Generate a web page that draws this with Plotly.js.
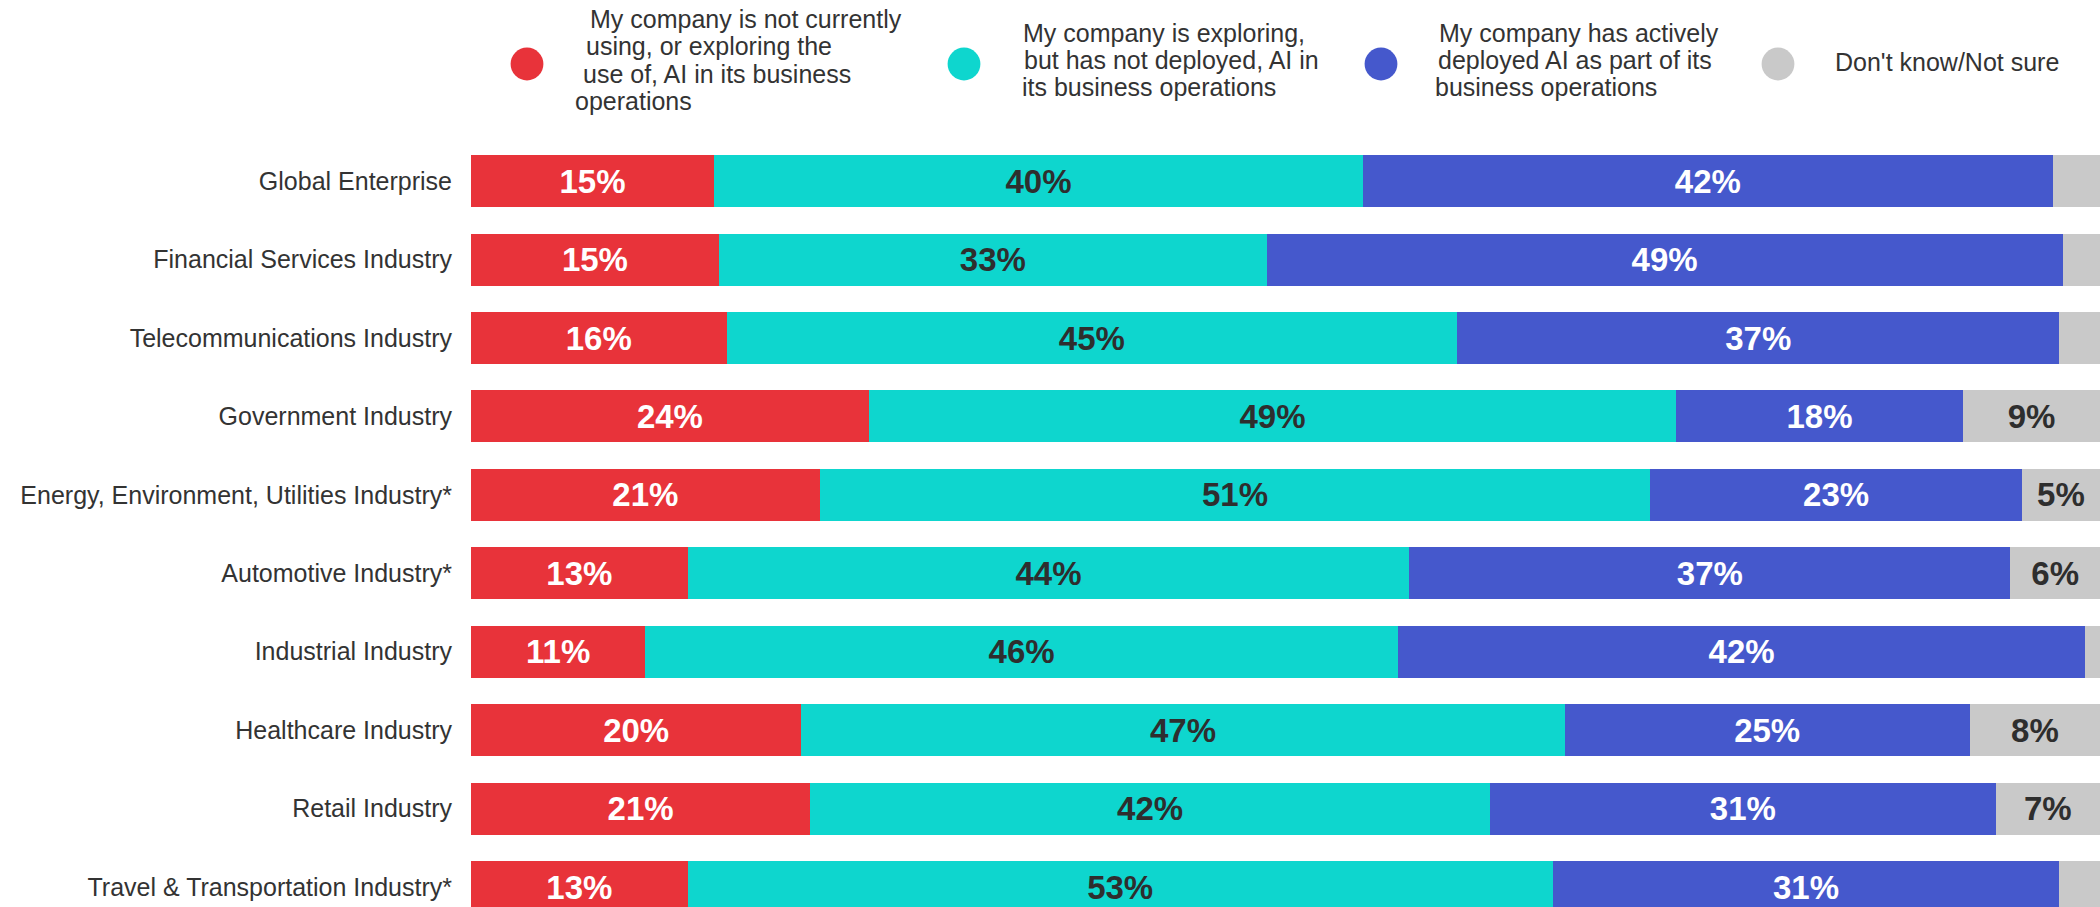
<!DOCTYPE html>
<html>
<head>
<meta charset="utf-8">
<script src="https://cdn.plot.ly/plotly-3.0.1.min.js"></script>
<style>
  html, body { margin: 0; padding: 0; background: #ffffff; }
  #chart { width: 2100px; height: 907px; }
</style>
</head>
<body>
<div id="chart"></div>
<script>
// ---------------- DATA ----------------
const categories = [
  "Global Enterprise",
  "Financial Services Industry",
  "Telecommunications Industry",
  "Government Industry",
  "Energy, Environment, Utilities Industry*",
  "Automotive Industry*",
  "Industrial Industry",
  "Healthcare Industry",
  "Retail Industry",
  "Travel & Transportation Industry*"
];

const seriesNames = [
  "My company is not currently using, or exploring the use of, AI in its business operations",
  "My company is exploring, but has not deployed, AI in its business operations",
  "My company has actively deployed AI as part of its business operations",
  "Don't know/Not sure"
];

// shares (%) as measured from the bar segments
const notUsing   = [14.9, 15.2, 15.7, 24.4, 21.4, 13.3, 10.7, 20.3, 20.8, 13.3];
const exploring  = [39.8, 33.6, 44.9, 49.5, 51.0, 44.3, 46.2, 46.9, 41.7, 53.1];
const deployed   = [42.3, 48.8, 37.0, 17.6, 22.8, 36.9, 42.2, 24.9, 31.0, 31.1];
const dontKnow   = [2.9, 2.3, 2.5, 8.4, 4.8, 5.5, 0.9, 8.0, 6.4, 2.5];

// printed labels on the segments ("" = no label shown)
const notUsingLabels  = ["15%", "15%", "16%", "24%", "21%", "13%", "11%", "20%", "21%", "13%"];
const exploringLabels = ["40%", "33%", "45%", "49%", "51%", "44%", "46%", "47%", "42%", "53%"];
const deployedLabels  = ["42%", "49%", "37%", "18%", "23%", "37%", "42%", "25%", "31%", "31%"];
const dontKnowLabels  = ["", "", "", "9%", "5%", "6%", "", "8%", "7%", ""];

// legend text lines (as shown in the original legend)
const legendLines = [
  ["My company is not currently", "using, or exploring the", "use of, AI in its business", "operations"],
  ["My company is exploring,", "but has not deployed, AI in", "its business operations"],
  ["My company has actively", "deployed AI as part of its", "business operations"],
  ["Don't know/Not sure"]
];

// ---------------- STYLE ----------------
const colors = ["#E8333A", "#0ED6CE", "#4558CC", "#C9C9C9"];
const textColors = ["#ffffff", "#2e2e2e", "#ffffff", "#2e2e2e"];
const FONT = "'Liberation Sans', Arial, Helvetica, sans-serif";

const W = 2100, H = 907;
const M = { l: 471, r: 0, t: 142, b: 0 };
const px2x = px => (px - M.l) / (W - M.l - M.r);
const py2y = py => 1 - (py - M.t) / (H - M.t - M.b);

const seriesVals = [notUsing, exploring, deployed, dontKnow];
const seriesLabels = [notUsingLabels, exploringLabels, deployedLabels, dontKnowLabels];

const traces = seriesVals.map((vals, k) => ({
  type: "bar",
  orientation: "h",
  name: seriesNames[k],
  y: categories,
  x: vals,
  marker: { color: colors[k], line: { width: 0 } },
  text: seriesLabels[k],
  textposition: "inside",
  insidetextanchor: "middle",
  textangle: 0,
  constraintext: "none",
  textfont: { family: FONT, size: 33, color: textColors[k], weight: "bold" },
  hoverinfo: "skip",
  showlegend: false
}));

// ---------------- LEGEND (manual: large circles + text) ----------------
const legendCircles = [
  { cx: 527, cy: 64 },
  { cx: 964, cy: 64 },
  { cx: 1381, cy: 64 },
  { cx: 1778, cy: 64 }
];
const legendLinePos = [
  [[589, 28], [585, 55], [582, 83], [574, 110]],
  [[1022, 42], [1023, 69], [1021, 96]],
  [[1438, 42], [1437, 69], [1434, 96]],
  [[1834, 71]]
];
const LFS = 25;

const shapes = legendCircles.map((c, k) => ({
  type: "circle",
  xref: "paper", yref: "paper",
  xsizemode: "pixel", ysizemode: "pixel",
  xanchor: px2x(c.cx), yanchor: py2y(c.cy),
  x0: -16.4, x1: 16.4, y0: -16.4, y1: 16.4,
  fillcolor: colors[k],
  line: { width: 0 }
}));

const annotations = [];
legendLines.forEach((lines, k) => {
  lines.forEach((t, j) => {
    const [lx, base] = legendLinePos[k][j];
    annotations.push({
      xref: "paper", yref: "paper",
      x: px2x(lx - 1), y: py2y(base - 0.35 * LFS),
      xanchor: "left", yanchor: "middle",
      text: t,
      showarrow: false,
      align: "left",
      font: { family: FONT, size: LFS, color: "#333333" }
    });
  });
});

const layout = {
  width: W, height: H,
  margin: { l: M.l, r: M.r, t: M.t, b: M.b, pad: 0 },
  paper_bgcolor: "#ffffff",
  plot_bgcolor: "#ffffff",
  barmode: "stack",
  barnorm: "percent",
  bargap: 0.337,
  showlegend: false,
  xaxis: {
    range: [0, 100],
    showgrid: false, zeroline: false, showline: false,
    showticklabels: false, ticks: "", fixedrange: true
  },
  yaxis: {
    type: "category",
    categoryorder: "array",
    categoryarray: categories,
    range: [9.255, -0.5],
    showgrid: false, zeroline: false, showline: false,
    ticks: "outside", ticklen: 13, tickcolor: "rgba(0,0,0,0)",
    tickfont: { family: FONT, size: 25, color: "#333333" },
    fixedrange: true
  },
  shapes: shapes,
  annotations: annotations,
  font: { family: FONT }
};

Plotly.newPlot("chart", traces, layout, { displayModeBar: false, staticPlot: true });
</script>
</body>
</html>
